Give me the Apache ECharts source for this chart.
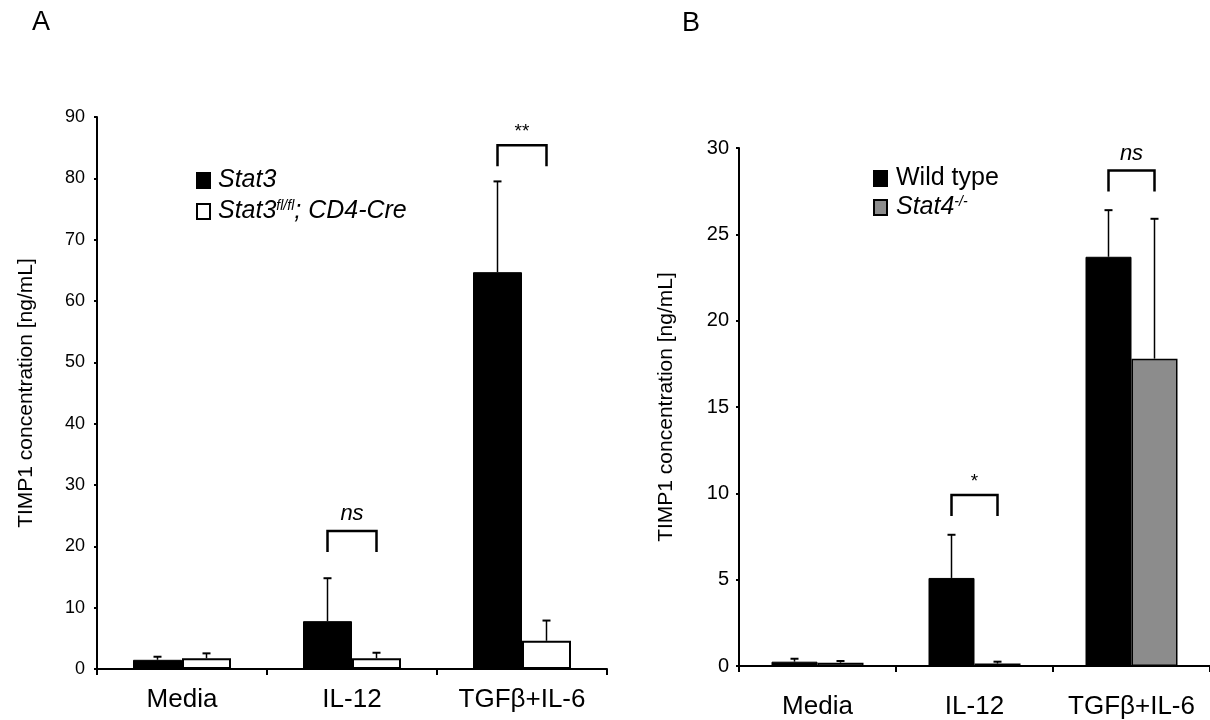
<!DOCTYPE html>
<html>
<head>
<meta charset="utf-8">
<script src="https://cdn.jsdelivr.net/npm/echarts@6/dist/echarts.min.js"></script>
<style>
  html, body { margin: 0; padding: 0; background: #fff; }
  #main { width: 1210px; height: 720px; }
</style>
</head>
<body>
<div id="main"></div>
<script>
// categories and values
const categories = ['Media', 'IL-12', 'TGFβ+IL-6'];

// panel A
const stat3Mean = [1.5, 7.8, 64.7];
const stat3Sd = [0.5, 7.0, 14.8];
const cd4CreMean = [1.75, 1.75, 4.6];
const cd4CreSd = [0.8, 0.9, 3.3];
const sigCatsA = [1, 2];
const sigTopA = [22.5, 85.4];
const sigLabelsA = ['ns', '**'];
const yTicksA = { min: 0, max: 90, interval: 10 };

// panel B
const wtMean = [0.25, 5.1, 23.7];
const wtSd = [0.17, 2.5, 2.7];
const stat4Mean = [0.19, 0.14, 17.8];
const stat4Sd = [0.1, 0.11, 8.1];
const sigCatsB = [1, 2];
const sigTopB = [9.9, 28.7];
const sigLabelsB = ['*', 'ns'];
const yTicksB = { min: 0, max: 30, interval: 5 };

const FONT = 'Liberation Sans, Arial, sans-serif';
const bwA = 49;
const bwB = 46;

function errRender(side, bw) {
    return function (params, api) {
        const i = api.value(0);
        const m = api.value(1);
        const s = api.value(2);
        const p0 = api.coord([i, m]);
        const p1 = api.coord([i, m + s]);
        const x = p0[0] + side * bw / 2;
        return {
            type: 'group',
            children: [
                { type: 'line', shape: { x1: x, y1: p0[1], x2: x, y2: p1[1] }, style: { stroke: '#000', lineWidth: 1.5 } },
                { type: 'line', shape: { x1: x - 4, y1: p1[1], x2: x + 4, y2: p1[1] }, style: { stroke: '#000', lineWidth: 2 } }
            ]
        };
    };
}

function bracketRender(bw, labels) {
    return function (params, api) {
        const i = api.value(0);
        const top = api.coord([i, api.value(1)]);
        const x1 = top[0] - bw / 2;
        const x2 = top[0] + bw / 2;
        const y = top[1];
        const label = labels[params.dataIndex];
        const italic = label === 'ns';
        return {
            type: 'group',
            children: [
                {
                    type: 'polyline',
                    shape: { points: [[x1, y + 21], [x1, y], [x2, y], [x2, y + 21]] },
                    style: { stroke: '#000', lineWidth: 2.5, fill: 'none' }
                },
                {
                    type: 'text',
                    x: top[0], y: y - (italic ? 17 : 13),
                    style: {
                        text: label,
                        font: (italic ? 'italic 22px ' : '19px ') + FONT,
                        fill: '#000',
                        align: 'center', verticalAlign: 'middle',
                        textAlign: 'center', textVerticalAlign: 'middle'
                    }
                }
            ]
        };
    };
}

function zip(a, b) {
    return a.map((v, i) => [i, v, b[i]]);
}

const chart = echarts.init(document.getElementById('main'), null, { renderer: 'canvas' });

const legendRich = {
    i: { fontStyle: 'italic', fontSize: 25, fontFamily: FONT, color: '#000' },
    n: { fontSize: 25, fontFamily: FONT, color: '#000' },
    sup: { fontStyle: 'italic', fontSize: 14, fontFamily: FONT, color: '#000', padding: [0, 0, 11, 0] }
};

const option = {
    animation: false,
    title: [
        { text: 'A', left: 27, top: 4, textStyle: { fontSize: 27, fontWeight: 'normal', fontFamily: FONT, color: '#000' } },
        { text: 'B', left: 677, top: 5, textStyle: { fontSize: 27, fontWeight: 'normal', fontFamily: FONT, color: '#000' } }
    ],
    legend: [
        {
            data: ['Stat3', 'Stat3fl/fl; CD4-Cre'],
            orient: 'vertical', left: 196, top: 168, padding: 0,
            icon: 'rect', itemWidth: 13, itemHeight: 15, itemGap: 6,
            formatter: function (name) {
                if (name === 'Stat3') return '{i|Stat3}';
                return '{i|Stat3}{sup|fl/fl}{i|; CD4-Cre}';
            },
            textStyle: { rich: legendRich, padding: [0, 0, 0, 3] }
        },
        {
            data: ['Wild type', 'Stat4-/-'],
            orient: 'vertical', left: 873, top: 166, padding: 0,
            icon: 'rect', itemWidth: 13, itemHeight: 15, itemGap: 4,
            formatter: function (name) {
                if (name === 'Wild type') return '{n|Wild type}';
                return '{i|Stat4}{sup|-/-}';
            },
            textStyle: { rich: legendRich, padding: [0, 0, 0, 4] }
        }
    ],
    grid: [
        { left: 97, top: 117, width: 510, height: 552 },
        { left: 739, top: 148, width: 472, height: 522 }
    ],
    xAxis: [0, 1].map(g => ({
        type: 'category',
        gridIndex: g,
        data: categories,
        boundaryGap: true,
        axisLine: { lineStyle: { color: '#000', width: 2 } },
        axisTick: { show: true, length: 6, lineStyle: { color: '#000', width: 2 } },
        axisLabel: { color: '#000', fontSize: 26, fontFamily: FONT, margin: g === 0 ? 18 : 28, interval: 0 },
        splitLine: { show: false }
    })),
    yAxis: [
        {
            type: 'value', gridIndex: 0,
            min: yTicksA.min, max: yTicksA.max, interval: yTicksA.interval,
            name: 'TIMP1 concentration [ng/mL]', nameLocation: 'middle', nameRotate: 90, nameGap: 60,
            nameTextStyle: { color: '#000', fontSize: 21, fontFamily: FONT },
            axisLine: { show: true, lineStyle: { color: '#000', width: 2 } },
            axisTick: { show: true, length: 3, lineStyle: { color: '#000', width: 2 } },
            axisLabel: { color: '#000', fontSize: 18, fontFamily: FONT, margin: 12 },
            splitLine: { show: false }
        },
        {
            type: 'value', gridIndex: 1,
            min: yTicksB.min, max: yTicksB.max, interval: yTicksB.interval,
            name: 'TIMP1 concentration [ng/mL]', nameLocation: 'middle', nameRotate: 90, nameGap: 62,
            nameTextStyle: { color: '#000', fontSize: 21, fontFamily: FONT },
            axisLine: { show: true, lineStyle: { color: '#000', width: 2 } },
            axisTick: { show: true, length: 3, lineStyle: { color: '#000', width: 2 } },
            axisLabel: { color: '#000', fontSize: 20, fontFamily: FONT, margin: 10 },
            splitLine: { show: false }
        }
    ],
    series: [
        {
            name: 'Stat3', type: 'bar', xAxisIndex: 0, yAxisIndex: 0,
            data: stat3Mean, barWidth: bwA, barGap: 0,
            itemStyle: { color: '#000', borderColor: '#000', borderWidth: 1 }
        },
        {
            name: 'Stat3fl/fl; CD4-Cre', type: 'bar', xAxisIndex: 0, yAxisIndex: 0,
            data: cd4CreMean, barWidth: bwA, barGap: 0,
            itemStyle: { color: '#fff', borderColor: '#000', borderWidth: 2 }
        },
        {
            type: 'custom', xAxisIndex: 0, yAxisIndex: 0, z: 5,
            renderItem: errRender(-1, bwA), data: zip(stat3Mean, stat3Sd), encode: { x: 0, y: 1 }
        },
        {
            type: 'custom', xAxisIndex: 0, yAxisIndex: 0, z: 5,
            renderItem: errRender(1, bwA), data: zip(cd4CreMean, cd4CreSd), encode: { x: 0, y: 1 }
        },
        {
            type: 'custom', xAxisIndex: 0, yAxisIndex: 0, z: 5,
            renderItem: bracketRender(bwA, sigLabelsA),
            data: sigCatsA.map((c, i) => [c, sigTopA[i]]), encode: { x: 0, y: 1 }
        },
        {
            name: 'Wild type', type: 'bar', xAxisIndex: 1, yAxisIndex: 1,
            data: wtMean, barWidth: bwB, barGap: 0,
            itemStyle: { color: '#000', borderColor: '#000', borderWidth: 1 }
        },
        {
            name: 'Stat4-/-', type: 'bar', xAxisIndex: 1, yAxisIndex: 1,
            data: stat4Mean, barWidth: bwB, barGap: 0,
            itemStyle: { color: '#8c8c8c', borderColor: '#000', borderWidth: 1.5 }
        },
        {
            type: 'custom', xAxisIndex: 1, yAxisIndex: 1, z: 5,
            renderItem: errRender(-1, bwB), data: zip(wtMean, wtSd), encode: { x: 0, y: 1 }
        },
        {
            type: 'custom', xAxisIndex: 1, yAxisIndex: 1, z: 5,
            renderItem: errRender(1, bwB), data: zip(stat4Mean, stat4Sd), encode: { x: 0, y: 1 }
        },
        {
            type: 'custom', xAxisIndex: 1, yAxisIndex: 1, z: 5,
            renderItem: bracketRender(bwB, sigLabelsB),
            data: sigCatsB.map((c, i) => [c, sigTopB[i]]), encode: { x: 0, y: 1 }
        }
    ]
};

chart.setOption(option);
</script>
</body>
</html>
